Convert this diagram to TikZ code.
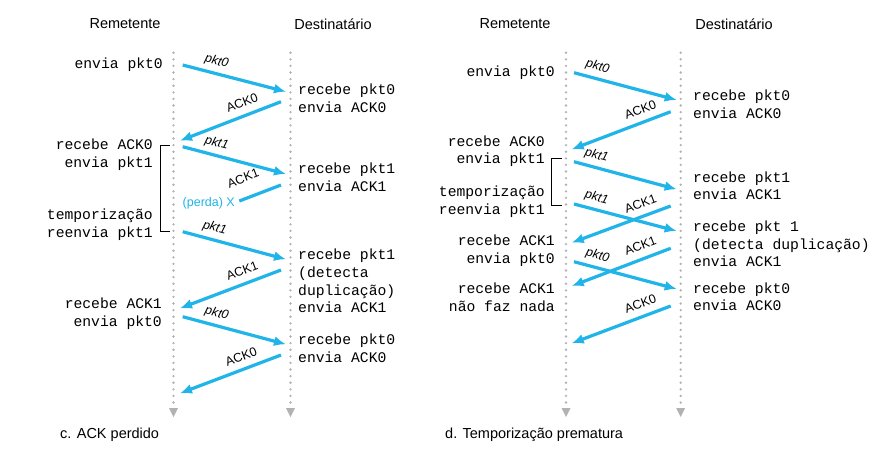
\documentclass[tikz,border=0pt]{standalone}
\usepackage{fontspec}
\setmainfont{Liberation Sans}
\setmonofont{Liberation Mono}
\newcommand\lanetop{52.7}
\newcommand\lanebot{403}
\usepackage{tikz}
\usetikzlibrary{arrows.meta}
\definecolor{pktblue}{RGB}{32,180,232}
\definecolor{lanegray}{RGB}{178,178,178}
\tikzset{lane/.style={draw=lanegray,line width=2.6pt,line cap=round,dash pattern=on 0pt off 6.6pt},
  msg/.style={draw=pktblue,line width=3.2pt,-{Latex[length=12pt,width=10pt]}},
  lostmsg/.style={draw=pktblue,line width=3.2pt},
  sendtxt/.style={font=\ttfamily\fontsize{14.7}{17.7}\selectfont,align=right,anchor=east,inner sep=0pt},
  recvtxt/.style={font=\ttfamily\fontsize{14.7}{17.7}\selectfont,align=left,anchor=west,inner sep=0pt},
  head/.style={font=\fontsize{14.5}{17}\selectfont,inner sep=0pt},
  lbl/.style={font=\fontsize{12.5}{14}\selectfont,sloped,above=4.5pt,inner sep=0pt,text height=9pt,text depth=2.5pt},
  lost/.style={font=\fontsize{12.5}{14}\selectfont,text=pktblue,inner sep=0pt},
  bracket/.style={draw=black,line width=0.8pt}}

\begin{document}
\begin{tikzpicture}[x=1pt,y=-1pt]
\useasboundingbox (0,0) rectangle (876,451);
% lanes
\foreach \x in {173.5,290.5,566,680.7}{
  \draw[lane] (\x,\lanetop) -- (\x,\lanebot);
  \fill[lanegray] (\x-4.5,408) -- (\x+4.5,408) -- (\x,417) -- cycle;
}

\node[head] (lsnd) at (125,24) {Remetente};
\node[head] (lrcv) at (333,24) {Destinatário};
\node[head] (rsnd) at (515,24) {Remetente};
\node[head] (rrcv) at (734,24) {Destinatário};
\node[head,anchor=west] (lcap) at (60,435) {c. ACK perdido};
\node[head,anchor=west] (rcap) at (445,435) {d. Temporização prematura};

% c. ACK perdido
\node[sendtxt] (ls1) at (163,65) {envia pkt0};
\node[sendtxt] (ls2) at (153,155) {recebe ACK0\\envia pkt1};
\node[sendtxt] (ls3) at (153,225) {temporização\\reenvia pkt1};
\node[sendtxt] (ls4) at (162,314) {recebe ACK1\\envia pkt0};
\node[recvtxt] (lr1) at (298,98.3) {recebe pkt0\\envia ACK0};
\node[recvtxt] (lr2) at (298,177.3) {recebe pkt1\\envia ACK1};
\node[recvtxt] (lr3) at (298,281) {recebe pkt1\\(detecta\\duplicação)\\envia ACK1};
\node[recvtxt] (lr4) at (298,348) {recebe pkt0\\envia ACK0};
\draw[bracket] (170,145) -- (160,145) -- (160,231.7) -- (170,231.7);

% d. Temporizacao prematura
\node[sendtxt] (rs1) at (555,72.7) {envia pkt0};
\node[sendtxt] (rs2) at (545,151.3) {recebe ACK0\\envia pkt1};
\node[sendtxt] (rs3) at (545,201.7) {temporização\\reenvia pkt1};
\node[sendtxt] (rs4) at (555,250.8) {recebe ACK1\\envia pkt0};
\node[sendtxt] (rs5) at (555,297) {recebe ACK1\\não faz nada};
\node[recvtxt] (rr1) at (693,104.3) {recebe pkt0\\envia ACK0};
\node[recvtxt] (rr2) at (693,185.7) {recebe pkt1\\envia ACK1};
\node[recvtxt] (rr3) at (693,244) {recebe pkt 1\\(detecta duplicação)\\envia ACK1};
\node[recvtxt] (rr4) at (693,296.7) {recebe pkt0\\envia ACK0};
\draw[bracket] (561.7,158.3) -- (551.7,158.3) -- (551.7,205) -- (561.7,205);

% packets and acks
\foreach \n/\xa/\ya/\xb/\yb/\p/\txt in {
  l1/182.7/65/286/91.7/.30/\textit{pkt0},
  l2/281/101.7/180/140.7/.34/ACK0,
  l3/182.7/146.7/286/174/.30/\textit{pkt1},
  l5/182.7/231.7/286/259.3/.28/\textit{pkt1},
  l6/281/270/180/308.3/.34/ACK1,
  l7/182.7/316.7/286/344.3/.30/\textit{pkt0},
  l8/281/355/180/393.3/.35/ACK0,
  r1/574/72.7/676.7/100/.20/\textit{pkt0},
  r2/670.7/111.7/571.7/149.3/.26/ACK0,
  r3/574/161.7/676.7/189.3/.19/\textit{pkt1},
  r4/574/204/676.7/231/.19/\textit{pkt1},
  r5/670.7/206/571.7/242.7/.26/ACK1,
  r6/670.7/248.3/571.7/286/.26/ACK1,
  r7/574/261.7/676.7/289/.20/\textit{pkt0},
  r8/670.7/306/571.7/343.3/.26/ACK0}{
  \coordinate (\n-a) at (\xa,\ya);
  \coordinate (\n-b) at (\xb,\yb);
  \draw[msg] (\n-a) -- (\n-b) node[lbl,pos=\p]{\txt};
}

% lost ack
\node[lost,anchor=east] (lost) at (235,203.3) {(perda) X};
\coordinate (l4-a) at (281,185);
\draw[lostmsg] (l4-a) -- ([xshift=4.3pt,yshift=2.3pt]lost.east) node[lbl,pos=.74,above=7pt]{ACK1};
\end{tikzpicture}
\end{document}
